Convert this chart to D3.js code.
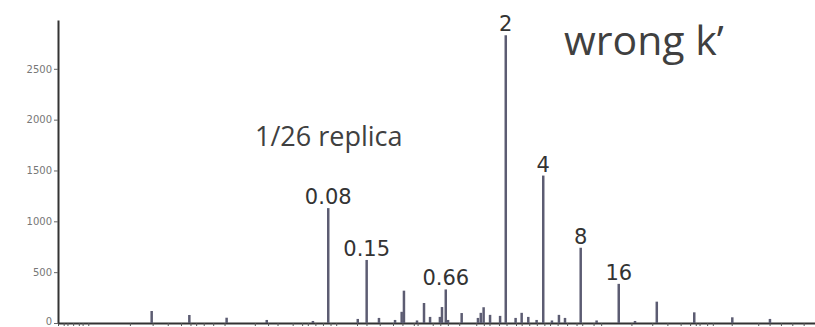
<!DOCTYPE html>
<html>
<head>
<meta charset="utf-8">
<script src="https://cdn.jsdelivr.net/npm/d3@7"></script>
<style>
  body { margin: 0; background: #fff; }
  svg { display: block; }
</style>
</head>
<body>
<div id="chart"></div>
<script>
// spectrum peaks: position (arbitrary units along x) and counts
var peakPos = [49.5, 69.4, 89.1, 110.3, 134.7, 142.8, 158.4, 163.1, 169.6, 178.1,
    181.6, 182.8, 189.7, 193.4, 196.6, 201.8, 202.9, 204.9, 206.1, 213.3,
    221.9, 223.4, 224.9, 228.3, 233.6, 236.6, 241.8, 245.0, 248.5, 252.9,
    256.4, 261.0, 264.7, 267.9, 276.2, 284.6, 296.3, 304.9, 316.4, 336.2,
    356.3, 376.2];
var peakVal = [118, 79, 52, 30, 20, 1130, 40, 620, 50, 30,
    110, 318, 25, 197, 60, 60, 157, 330, 30, 98,
    50, 100, 155, 80, 70, 2830, 50, 100, 60, 30,
    1450, 25, 80, 50, 740, 25, 385, 20, 210, 105,
    56, 40];

// labelled peaks
var labelPos = [142.8, 163.1, 204.9, 236.6, 256.4, 276.2, 296.3];
var labelVal = [1130, 620, 330, 2830, 1450, 740, 385];
var labelText = ["0.08", "0.15", "0.66", "2", "4", "8", "16"];

var yTicks = [0, 500, 1000, 1500, 2000, 2500];
var xTicks = [0, 3, 5, 8, 11, 13, 16, 38, 50, 58, 65, 70, 73, 77, 82, 88,
    104, 111, 116, 124, 129, 132, 136, 140, 144, 147, 158, 163, 170, 177, 182, 188,
    190, 198, 202, 206, 212, 221, 225, 228, 233, 237, 242, 245, 249, 253, 257, 260,
    264, 269, 274, 277, 283, 287, 303, 314, 322, 329, 334, 337, 339, 343, 346,
    356, 370, 376, 382, 388, 394];

var width = 815, height = 327;
var margin = { top: 20, right: 0, bottom: 4, left: 58 };

var svg = d3.select("#chart").append("svg")
    .attr("width", width)
    .attr("height", height);

var x = d3.scaleLinear().domain([0, 400]).range([margin.left, width - margin.right]);
var y = d3.scaleLinear().domain([0, 2980]).range([height - margin.bottom, margin.top]);

// x axis
var gx = svg.append("g")
    .attr("transform", "translate(0," + y(0) + ")")
    .call(d3.axisBottom(x).tickValues(xTicks).tickFormat("").tickSize(3).tickSizeOuter(0));
gx.select(".domain").attr("stroke", "#333").attr("stroke-width", 2);
gx.selectAll(".tick line").attr("stroke", "#555").attr("stroke-width", 1);

// y axis
var gy = svg.append("g")
    .attr("transform", "translate(" + margin.left + ",0)")
    .call(d3.axisLeft(y).tickValues(yTicks).tickFormat(d3.format("d"))
        .tickSize(4).tickSizeOuter(0).tickPadding(2));
gy.select(".domain").attr("stroke", "#333").attr("stroke-width", 2);
gy.selectAll(".tick line").attr("stroke", "#666");
gy.selectAll(".tick text")
    .attr("font-family", "DejaVu Sans")
    .attr("font-size", 10)
    .attr("fill", "#777")
    .attr("dy", function (d) { return d === 0 ? "0.15em" : "0.32em"; });

// bars
svg.append("g").selectAll("line")
    .data(peakPos)
    .enter().append("line")
    .attr("x1", function (d) { return x(d); })
    .attr("x2", function (d) { return x(d); })
    .attr("y1", y(0))
    .attr("y2", function (d, i) { return y(peakVal[i]); })
    .attr("stroke", "#5c5c72")
    .attr("stroke-width", 2.5);

// peak labels
svg.append("g").selectAll("text")
    .data(labelText)
    .enter().append("text")
    .attr("x", function (d, i) { return x(labelPos[i]); })
    .attr("y", function (d, i) { return y(labelVal[i]) - 4; })
    .attr("text-anchor", "middle")
    .attr("font-family", "DejaVu Sans")
    .attr("font-size", 21)
    .attr("fill", "#333")
    .text(function (d) { return d; });

// annotations
svg.append("text")
    .attr("x", 255)
    .attr("y", 146)
    .attr("font-family", "Open Sans")
    .attr("font-size", 27)
    .attr("fill", "#404040")
    .text("1/26 replica");

svg.append("text")
    .attr("x", 564)
    .attr("y", 55)
    .attr("font-family", "Open Sans")
    .attr("font-size", 41)
    .attr("fill", "#404040")
    .text("wrong k\u2019");
</script>
</body>
</html>
